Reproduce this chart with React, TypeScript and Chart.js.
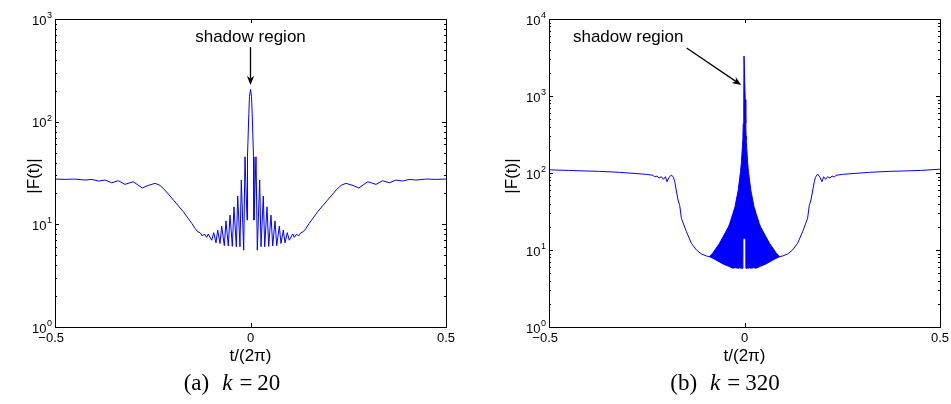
import React, { useEffect, useRef } from 'react';
import { Chart, registerables } from 'chart.js';

Chart.register(...registerables);

const FONT = '"Liberation Sans", Arial, Helvetica, sans-serif';
const BLUE = '#0000ff';

// ---------- Panel (a): k = 20 ----------
const tA = [
  -0.5, -0.474, -0.449, -0.423, -0.406, -0.389, -0.372, -0.355, -0.338, -0.321,
  -0.3, -0.288, -0.277, -0.262, -0.244, -0.232, -0.219, -0.197, -0.172, -0.15,
  -0.142, -0.135, -0.129, -0.123, -0.118, -0.112, -0.108, -0.0992, -0.0941, -0.0882,
  -0.0839, -0.078, -0.0737, -0.067, -0.0627, -0.0568, -0.0524, -0.0465, -0.0422, -0.0363,
  -0.0327, -0.0269, -0.0235, -0.0174, -0.0141, -0.0088, -0.0077, -0.0043, -0.0026, 0,
  0.0026, 0.0043, 0.0077, 0.0088, 0.0141, 0.0174, 0.0235, 0.0269, 0.0327, 0.0363,
  0.0422, 0.0465, 0.0524, 0.0568, 0.0627, 0.067, 0.0737, 0.078, 0.0839, 0.0882,
  0.0941, 0.0992, 0.108, 0.112, 0.118, 0.123, 0.129, 0.135, 0.142, 0.15,
  0.172, 0.197, 0.219, 0.232, 0.244, 0.262, 0.277, 0.288, 0.3, 0.321,
  0.338, 0.355, 0.372, 0.389, 0.406, 0.423, 0.449, 0.474, 0.5,
];
const vA = [
  27.6, 27.4, 27.6, 27.0, 27.4, 26.4, 27.0, 25.4, 26.6, 24.5,
  26.0, 24.2, 22.6, 23.9, 25.1, 24.0, 21.6, 17.2, 13.3, 10.2,
  9.14, 8.47, 8.3, 7.69, 8.05, 7.47, 8.05, 7.0, 8.3, 6.6,
  8.8, 6.5, 9.6, 6.2, 10.8, 6.15, 12.3, 6.1, 14.8, 6.05,
  18.9, 6.05, 27.0, 5.6, 45.5, 11.0, 45.5, 120, 175, 206,
  175, 120, 45.5, 11.0, 45.5, 5.6, 27.0, 6.05, 18.9, 6.05,
  14.8, 6.1, 12.3, 6.15, 10.8, 6.2, 9.6, 6.5, 8.8, 6.6,
  8.3, 7.0, 8.05, 7.47, 8.05, 7.69, 8.3, 8.47, 9.14, 10.2,
  13.3, 17.2, 21.6, 24.0, 25.1, 23.9, 22.6, 24.2, 26.0, 24.5,
  26.6, 25.4, 27.0, 26.4, 27.4, 27.0, 27.6, 27.4, 27.6,
];

// ---------- Panel (b): k = 320 ----------
// outer curve, left side
const tBL = [
  -0.5, -0.45, -0.4, -0.37, -0.32, -0.285, -0.251, -0.234, -0.2297, -0.2238,
  -0.2187, -0.2125, -0.2074, -0.2023, -0.1982, -0.193, -0.187, -0.1815, -0.1785, -0.17,
  -0.1657, -0.1614, -0.1486, -0.1358, -0.123, -0.1102, -0.0974, -0.09,
];
const vBL = [
  110, 108, 106, 105, 102, 99, 96, 93.4, 88.7, 91.4,
  86.1, 89.5, 82.8, 89.5, 77.1, 88, 94.2, 88, 77, 44.6,
  38, 25.8, 17.3, 12.2, 10.0, 8.87, 8.36, 8.2,
];
// dense oscillation core: upper and lower envelopes
const tBC = [
  -0.09, -0.0806, -0.064, -0.055, -0.041, -0.0379, -0.0294, -0.0243, -0.016, -0.012,
  -0.01, -0.0079, -0.0043, -0.004, -0.0033, -0.0018, -0.0012, 0, 0.0012, 0.0018,
  0.0033, 0.004, 0.0043, 0.0079, 0.01, 0.012, 0.016, 0.0243, 0.0294, 0.0379,
  0.041, 0.055, 0.064, 0.0806, 0.09,
];
const vBUp = [
  8.2, 9.2, 12.2, 14.8, 20, 22, 30, 36.5, 60, 88,
  105, 140, 268, 300, 440, 900, 3300, 3300, 3300, 900,
  440, 300, 268, 140, 105, 88, 60, 36.5, 30, 22,
  20, 14.8, 12.2, 9.2, 8.2,
];
const vBLow = [
  8.2, 7.8, 7.0, 6.6, 6.15, 6.07, 5.8, 5.9, 5.8, 5.9,
  5.8, 5.8, 5.8, 14.2, 14.2, 14.2, 14.2, 14.2, 14.2, 14.2,
  14.2, 14.2, 5.8, 5.8, 5.8, 5.9, 5.8, 5.9, 5.8, 6.07,
  6.15, 6.6, 7.0, 7.8, 8.2,
];
// outer curve, right side
const tBR = [
  0.09, 0.0974, 0.1102, 0.123, 0.1358, 0.1486, 0.1614, 0.1657, 0.17, 0.1785,
  0.1815, 0.187, 0.193, 0.1982, 0.2023, 0.2074, 0.2125, 0.2187, 0.2238, 0.2297,
  0.234, 0.251, 0.285, 0.32, 0.37, 0.4, 0.45, 0.5,
];
const vBR = [
  8.2, 8.36, 8.87, 10.0, 12.2, 17.3, 25.8, 38, 44.6, 77,
  88, 97, 88, 77.1, 89.5, 82.8, 89.5, 86.1, 91.4, 88.7,
  93.4, 96, 99, 102, 105, 106, 108, 112,
];

// ---------- ticks & labels ----------
const xTickValues = [-0.5, 0, 0.5];
const xTickLabels = ['\u22120.5', '0', '0.5'];
const yExpA = [0, 1, 2, 3];
const yExpB = [0, 1, 2, 3, 4];
const xTitle = 't/(2\u03c0)';
const yTitle = '|F(t)|';
const annText = 'shadow region';
const captionA = { label: '(a)', k: 'k', value: '20' };
const captionB = { label: '(b)', k: 'k', value: '320' };

const pts = (t: number[], v: number[]) => t.map((x, i) => ({ x, y: v[i] }));

type Ann = { text: [number, number]; tail: [number, number]; tip: [number, number] };
type FrameCfg = { yExp: number[]; ann: Ann; yTitleX: number };

function drawArrow(ctx: CanvasRenderingContext2D, x1: number, y1: number, x2: number, y2: number) {
  const ang = Math.atan2(y2 - y1, x2 - x1);
  const c = Math.cos(ang), s = Math.sin(ang);
  const len = 9, w = 3.6, notch = 6.5;
  ctx.lineWidth = 1.3;
  ctx.beginPath();
  ctx.moveTo(x1, y1);
  ctx.lineTo(x2 - c * notch, y2 - s * notch);
  ctx.stroke();
  ctx.beginPath();
  ctx.moveTo(x2, y2);
  ctx.lineTo(x2 - len * c + w * s, y2 - len * s - w * c);
  ctx.lineTo(x2 - notch * c, y2 - notch * s);
  ctx.lineTo(x2 - len * c - w * s, y2 - len * s + w * c);
  ctx.closePath();
  ctx.fill();
}

function makeFrame(cfg: FrameCfg) {
  return {
    id: 'frame',
    afterDraw(chart: any) {
      const { ctx, chartArea: a, scales } = chart;
      const sx = scales.x, sy = scales.y;
      const L = Math.round(a.left), R = Math.round(a.right), T = Math.round(a.top), B = Math.round(a.bottom);
      ctx.save();
      ctx.strokeStyle = '#000';
      ctx.fillStyle = '#000';
      ctx.lineWidth = 1;
      ctx.beginPath();
      xTickValues.forEach((v) => {
        const px = Math.round(sx.getPixelForValue(v)) + 0.5;
        ctx.moveTo(px, B); ctx.lineTo(px, B - 4);
        ctx.moveTo(px, T); ctx.lineTo(px, T + 4);
      });
      cfg.yExp.forEach((e, i) => {
        const py = Math.round(sy.getPixelForValue(Math.pow(10, e))) + 0.5;
        ctx.moveTo(L, py); ctx.lineTo(L + 4, py);
        ctx.moveTo(R, py); ctx.lineTo(R - 4, py);
        if (i < cfg.yExp.length - 1) {
          for (let m = 2; m <= 9; m++) {
            const q = Math.round(sy.getPixelForValue(m * Math.pow(10, e))) + 0.5;
            ctx.moveTo(L, q); ctx.lineTo(L + 2, q);
            ctx.moveTo(R, q); ctx.lineTo(R - 2, q);
          }
        }
      });
      ctx.stroke();
      ctx.strokeRect(L + 0.5, T + 0.5, R - L, B - T);

      // x tick labels
      ctx.font = `13px ${FONT}`;
      ctx.textBaseline = 'alphabetic';
      ctx.textAlign = 'right';
      xTickValues.forEach((v, i) => {
        const lab = xTickLabels[i];
        const core = lab.replace('\u2212', '');
        const wcore = ctx.measureText(core).width;
        ctx.fillText(lab, sx.getPixelForValue(v) + wcore / 2, B + 15);
      });
      // y tick labels 10^e
      cfg.yExp.forEach((e) => {
        const py = sy.getPixelForValue(Math.pow(10, e));
        ctx.font = `13px ${FONT}`;
        ctx.textAlign = 'right';
        ctx.fillText('10', L - 8.5, py + 5.5);
        ctx.font = `9px ${FONT}`;
        ctx.textAlign = 'left';
        ctx.fillText(String(e), L - 8, py - 1);
      });
      // axis titles
      ctx.font = `17px ${FONT}`;
      ctx.textAlign = 'center';
      ctx.fillText(xTitle, (L + R) / 2, B + 34);
      ctx.save();
      ctx.translate(cfg.yTitleX, (T + B) / 2 + 3);
      ctx.rotate(-Math.PI / 2);
      ctx.textBaseline = 'middle';
      ctx.fillText(yTitle, 0, 0);
      ctx.restore();
      // annotation
      const an = cfg.ann;
      ctx.textBaseline = 'middle';
      ctx.fillText(annText, sx.getPixelForValue(an.text[0]), sy.getPixelForValue(an.text[1]));
      drawArrow(
        ctx,
        sx.getPixelForValue(an.tail[0]), sy.getPixelForValue(an.tail[1]),
        sx.getPixelForValue(an.tip[0]), sy.getPixelForValue(an.tip[1])
      );
      ctx.restore();
    },
  };
}

function baseOptions(ymax: number, padding: any) {
  return {
    animation: false,
    responsive: false,
    maintainAspectRatio: false,
    layout: { padding },
    plugins: { legend: { display: false }, tooltip: { enabled: false } },
    scales: {
      x: { type: 'linear', min: -0.5, max: 0.5, display: false },
      y: { type: 'logarithmic', min: 1, max: ymax, display: false },
    },
    elements: { point: { radius: 0 }, line: { tension: 0 } },
  } as any;
}

const lineDs = (data: any[], extra: any = {}) => ({
  data,
  borderColor: BLUE,
  borderWidth: 1,
  pointRadius: 0,
  fill: false,
  ...extra,
});

const capStyle = (cx: number): React.CSSProperties => ({
  position: 'absolute',
  left: cx,
  top: 370,
  transform: 'translateX(-50%)',
  fontFamily: '"Liberation Serif", "DejaVu Serif", serif',
  fontSize: 23,
  lineHeight: '26px',
  whiteSpace: 'nowrap',
  color: '#000',
});

function Caption({ c, cx }: { c: { label: string; k: string; value: string }; cx: number }) {
  return (
    <div style={capStyle(cx)}>
      <span>{c.label}</span>
      <span style={{ marginLeft: 13, fontStyle: 'italic' }}>{c.k}</span>
      <span style={{ margin: '0 5px 0 7px' }}>=</span>
      <span>{c.value}</span>
    </div>
  );
}

export default function App() {
  const refA = useRef<HTMLCanvasElement>(null);
  const refB = useRef<HTMLCanvasElement>(null);

  useEffect(() => {
    const chartA = new Chart(refA.current as HTMLCanvasElement, {
      type: 'line',
      data: { datasets: [lineDs(pts(tA, vA))] },
      options: baseOptions(1000, { left: 55, top: 19, right: 29, bottom: 77 }),
      plugins: [
        makeFrame({
          yExp: yExpA,
          yTitleX: 34,
          ann: { text: [0, 666], tail: [0, 532], tip: [0, 227] },
        }),
      ],
    } as any);

    const chartB = new Chart(refB.current as HTMLCanvasElement, {
      type: 'line',
      data: {
        datasets: [
          lineDs(pts(tBL, vBL)),
          lineDs(pts(tBC, vBUp), { fill: '+1', backgroundColor: BLUE }),
          lineDs(pts(tBC, vBLow)),
          lineDs(pts(tBR, vBR)),
        ],
      },
      options: baseOptions(10000, { left: 74, top: 19, right: 11, bottom: 77 }),
      plugins: [
        makeFrame({
          yExp: yExpB,
          yTitleX: 37,
          ann: { text: [-0.2974, 5840], tail: [-0.148, 4200], tip: [-0.0084, 1390] },
        }),
      ],
    } as any);

    return () => {
      chartA.destroy();
      chartB.destroy();
    };
  }, []);

  return (
    <div style={{ position: 'absolute', left: 0, top: 0, width: 951, height: 404, background: '#fff' }}>
      <canvas ref={refA} width={475} height={404} style={{ position: 'absolute', left: 0, top: 0 }} />
      <canvas ref={refB} width={476} height={404} style={{ position: 'absolute', left: 475, top: 0 }} />
      <Caption c={captionA} cx={232} />
      <Caption c={captionB} cx={725} />
    </div>
  );
}
